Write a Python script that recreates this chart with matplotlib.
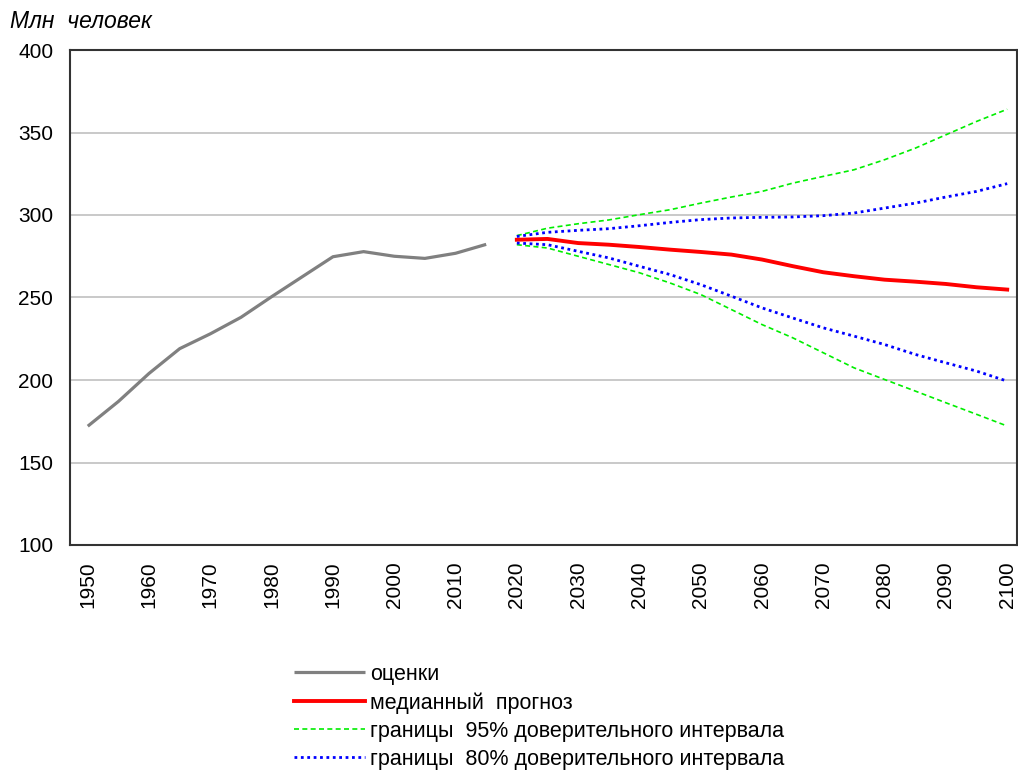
import matplotlib
matplotlib.use('Agg')
import matplotlib.pyplot as plt

plt.rcParams['font.family'] = ['Liberation Sans', 'DejaVu Sans']

# оценки (estimates), every 5 years
est_years = [1950, 1955, 1960, 1965, 1970, 1975, 1980, 1985, 1990, 1995, 2000, 2005, 2010, 2015]
est_vals = [172, 187, 204, 219, 228, 238, 250.5, 262.6, 274.7, 277.8, 275, 273.7, 276.8, 282.2]

# прогноз (projections)
fc_years = [2020, 2025, 2030, 2035, 2040, 2045, 2050, 2055, 2060, 2065, 2070, 2075, 2080, 2085, 2090, 2095, 2100]
median = [285, 285.5, 283, 282, 280.6, 279, 277.6, 276, 273, 269, 265.3, 262.9, 260.8, 259.6, 258.2, 256.2, 254.8]
up95 = [287.5, 292, 294.7, 297, 300.2, 303.2, 307.2, 310.9, 314.3, 319.3, 323.4, 327.4, 333.5, 340.5, 348.6, 356.7, 364.1]
low95 = [282, 280, 275, 270, 265, 258.8, 251.8, 242.7, 233.6, 225.6, 216.5, 207.4, 200.3, 193.3, 186.2, 179.2, 172.1]
up80 = [287, 289.5, 290.7, 291.7, 293.5, 295.5, 297.2, 298.2, 298.6, 298.8, 299.6, 301.2, 304.2, 307.2, 310.9, 314.3, 319]
low80 = [283, 282, 278, 274, 268.9, 263.9, 257.8, 250.8, 243.7, 237.6, 231.6, 226.6, 221.5, 215.5, 210.4, 205.4, 199.3]

xticks = list(range(1950, 2101, 10))
yticks = [100, 150, 200, 250, 300, 350, 400]

fig = plt.figure(figsize=(10.18, 7.71), dpi=100)
ax = fig.add_axes([70/1018, 226/771, 947/1018, 495/771])

green = '#00ee00'
blue = '#0000ff'

l1, = ax.plot(est_years, est_vals, color='#808080', lw=2.3, solid_capstyle='butt')
l2, = ax.plot(fc_years, median, color='#ff0000', lw=2.8)
l3, = ax.plot(fc_years, up95, color=green, lw=1.2, linestyle=(0, (3, 2)))
ax.plot(fc_years, low95, color=green, lw=1.2, linestyle=(0, (3, 2)))
l4, = ax.plot(fc_years, up80, color=blue, lw=2.0, linestyle=(0, (1, 1.3)))
ax.plot(fc_years, low80, color=blue, lw=2.0, linestyle=(0, (1, 1.3)))

ax.set_xlim(1947.1, 2101.6)
ax.set_ylim(100, 400)
ax.set_xticks(xticks)
ax.set_xticklabels([str(y) for y in xticks], rotation=90)
ax.set_yticks(yticks)
ax.tick_params(axis='both', length=0, labelsize=15, pad=12)
ax.grid(axis='y', color='#c0c0c0', lw=1.2)
ax.set_axisbelow(True)
for s in ax.spines.values():
    s.set_color('#333333')
    s.set_linewidth(1.5)

fig.text(10/1018, 1 - 22/771, 'Млн  человек', fontsize=16.5, style='italic', va='center', ha='left')

fig.legend([l1, l2, l3, l4],
           ['оценки', 'медианный  прогноз', 'границы  95% доверительного интервала',
            'границы  80% доверительного интервала'],
           loc='upper left', bbox_to_anchor=(294/1018, 1 - 664/771), frameon=False,
           fontsize=15.5, handlelength=3.3, handletextpad=0.25, labelspacing=0.33,
           borderpad=0, borderaxespad=0)

fig.savefig('out.png', dpi=100)
